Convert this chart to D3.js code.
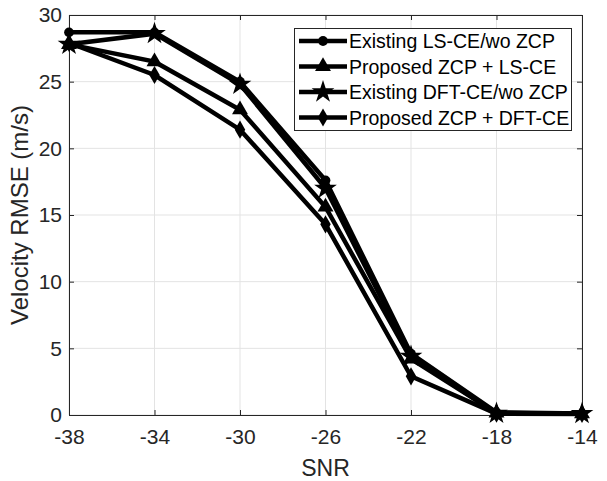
<!DOCTYPE html>
<html>
<head>
<meta charset="utf-8">
<script src="https://cdn.jsdelivr.net/npm/d3@7"></script>
<style>
  html, body { margin: 0; padding: 0; background: #fff; }
  svg { display: block; font-family: "Liberation Sans", Arial, sans-serif; }
</style>
</head>
<body>
<svg id="chart" width="607" height="481"></svg>
<script>
// SNR grid (dB) and velocity RMSE (m/s) per estimator
const snr = [-38, -34, -30, -26, -22, -18, -14];
const xTicks = [-38, -34, -30, -26, -22, -18, -14];
const yTicks = [0, 5, 10, 15, 20, 25, 30];

const seriesNames = [
  "Existing LS-CE/wo ZCP",
  "Proposed ZCP + LS-CE",
  "Existing DFT-CE/wo ZCP",
  "Proposed ZCP + DFT-CE"
];
const lsNoZcp  = [28.7, 28.7, 25.0, 17.6, 4.6, 0.2, 0.12];
const lsZcp    = [27.8, 26.5, 22.9, 15.6, 4.2, 0.15, 0.1];
const dftNoZcp = [27.8, 28.6, 24.8, 17.0, 4.4, 0.12, 0.1];
const dftZcp   = [27.9, 25.5, 21.4, 14.3, 2.9, 0.1, 0.08];
const markers  = ["circle", "triangle", "star", "diamond"];

const svg = d3.select("#chart");
const pL = 69, pR = 582, pT = 15, pB = 415;

const x = d3.scaleLinear().domain([-38, -14]).range([pL, pR]);
const y = d3.scaleLinear().domain([0, 30]).range([pB, pT]);

// grid
const grid = svg.append("g").attr("stroke", "#e3e3e3").attr("stroke-width", 1);
xTicks.forEach(t => grid.append("line")
  .attr("x1", x(t)).attr("x2", x(t)).attr("y1", pT).attr("y2", pB));
yTicks.forEach(t => grid.append("line")
  .attr("x1", pL).attr("x2", pR).attr("y1", y(t)).attr("y2", y(t)));

// axes (ticks pointing inward, box style); labels use a plain hyphen
const tickLen = 5;
const fmt = d => String(d);
const xAxis = svg.append("g").attr("transform", `translate(0,${pB})`)
  .call(d3.axisBottom(x).tickValues(xTicks).tickFormat(fmt)
    .tickSizeInner(-tickLen).tickSizeOuter(0).tickPadding(14));
const yAxis = svg.append("g").attr("transform", `translate(${pL},0)`)
  .call(d3.axisLeft(y).tickValues(yTicks).tickFormat(fmt)
    .tickSizeInner(-tickLen).tickSizeOuter(0).tickPadding(7));
const xTop = svg.append("g").attr("transform", `translate(0,${pT})`)
  .call(d3.axisTop(x).tickValues(xTicks).tickSizeInner(-tickLen).tickSizeOuter(0).tickFormat(""));
const yRight = svg.append("g").attr("transform", `translate(${pR},0)`)
  .call(d3.axisRight(y).tickValues(yTicks).tickSizeInner(-tickLen).tickSizeOuter(0).tickFormat(""));

[xAxis, yAxis, xTop, yRight].forEach(g => {
  g.select(".domain").attr("stroke", "#262626").attr("stroke-width", 1);
  g.selectAll(".tick line").attr("stroke", "#262626");
  g.selectAll("text").attr("fill", "#262626").style("font-size", "21px")
    .style("font-family", "'Liberation Sans', Arial, sans-serif");
});

// axis labels
svg.append("text").attr("x", (pL + pR) / 2).attr("y", 476)
  .attr("text-anchor", "middle").attr("fill", "#262626")
  .style("font-size", "23px").text("SNR");
svg.append("text").attr("transform", `translate(28,${(pT + pB) / 2}) rotate(-90)`)
  .attr("text-anchor", "middle").attr("fill", "#262626")
  .style("font-size", "24px").text("Velocity RMSE (m/s)");

// marker shapes
function markerPath(kind) {
  switch (kind) {
    case "circle":   return d3.symbol().type(d3.symbolCircle).size(75)();
    case "triangle": return d3.symbol().type(d3.symbolTriangle).size(110)();
    case "star":     return d3.symbol().type(d3.symbolStar).size(160)();
    case "diamond":  return d3.symbol().type(d3.symbolDiamond).size(95)();
  }
}

const allSeries = [lsNoZcp, lsZcp, dftNoZcp, dftZcp];
const line = d3.line().x(d => x(d[0])).y(d => y(d[1]));

const plot = svg.append("g");
allSeries.forEach((vals, i) => {
  const pts = snr.map((s, j) => [s, vals[j]]);
  plot.append("path").datum(pts).attr("d", line)
    .attr("fill", "none").attr("stroke", "#000").attr("stroke-width", 4.5)
    .attr("stroke-linejoin", "miter");
  plot.selectAll(null).data(pts).enter().append("path")
    .attr("transform", d => `translate(${x(d[0])},${y(d[1])})`)
    .attr("d", markerPath(markers[i])).attr("fill", "#000");
});

// legend
const lg = svg.append("g");
lg.append("rect").attr("x", 294.5).attr("y", 28.5).attr("width", 277).attr("height", 102)
  .attr("fill", "#fff").attr("stroke", "#262626").attr("stroke-width", 1);
seriesNames.forEach((name, i) => {
  const ry = 41 + i * 25.5;
  lg.append("line").attr("x1", 299).attr("x2", 347).attr("y1", ry).attr("y2", ry)
    .attr("stroke", "#000").attr("stroke-width", 4.5);
  lg.append("path").attr("transform", `translate(323,${ry})`)
    .attr("d", markerPath(markers[i])).attr("fill", "#000");
  lg.append("text").attr("x", 349).attr("y", ry + 7).attr("fill", "#000")
    .style("font-size", "19.5px").text(name);
});
</script>
</body>
</html>
